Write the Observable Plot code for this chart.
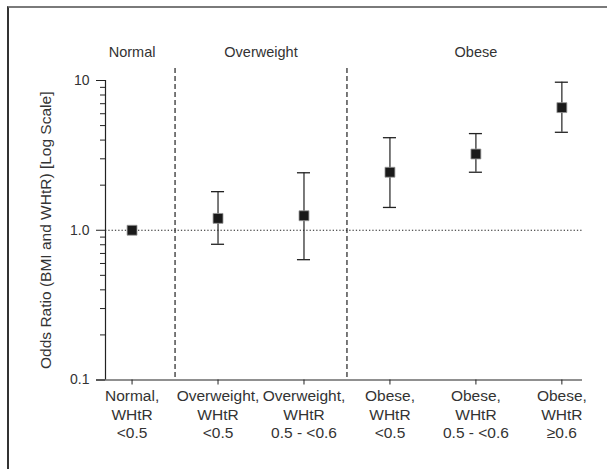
<!DOCTYPE html>
<html>
<head>
<meta charset="utf-8">
<script src="https://cdn.jsdelivr.net/npm/d3@7"></script>
<script src="https://cdn.jsdelivr.net/npm/@observablehq/plot@0.6"></script>
<style>
  html, body { margin: 0; padding: 0; background: #fff; }
  #wrap { position: relative; width: 607px; height: 469px; overflow: hidden; }
  #frame { position: absolute; left: 7px; top: 6px; right: -10px; bottom: -10px;
           border-top: 2px solid #7a7a7a; border-left: 2px solid #333; }
  #chart { position: absolute; left: 0; top: 0; }
  svg { font-family: "Liberation Sans", Arial, sans-serif; }
</style>
</head>
<body>
<div id="wrap"><div id="frame"></div><div id="chart"></div></div>
<script>
const categories = [
  "Normal,\nWHtR\n<0.5",
  "Overweight,\nWHtR\n<0.5",
  "Overweight,\nWHtR\n0.5 - <0.6",
  "Obese,\nWHtR\n<0.5",
  "Obese,\nWHtR\n0.5 - <0.6",
  "Obese,\nWHtR\n≥0.6"
];
const oddsRatio = [1.0, 1.20, 1.25, 2.44, 3.23, 6.59];
const lowerCI   = [null, 0.806, 0.636, 1.42, 2.44, 4.51];
const upperCI   = [null, 1.81, 2.42, 4.15, 4.42, 9.74];
const groupNames = ["Normal", "Overweight", "Obese"];
const groupCenters = [0, 1.5, 4];
const groupDividers = [0.5, 2.5];
const majorTicks = [0.1, 1, 10];
const majorTickLabels = ["0.1", "1.0", "10"];
const minorTicks = [0.2,0.3,0.4,0.5,0.6,0.7,0.8,0.9,2,3,4,5,6,7,8,9];

const data = categories.map((c, i) => ({i, c, or: oddsRatio[i], lo: lowerCI[i], hi: upperCI[i]}));
const ci = data.filter(d => d.lo != null);
const groups = groupNames.map((g, k) => ({g, x: groupCenters[k]}));
const ink = "#222";
const txt = "#333";

const chart = Plot.plot({
  width: 607,
  height: 469,
  marginLeft: 105,
  marginRight: 25,
  marginTop: 80,
  marginBottom: 89.5,
  style: {fontSize: "15px", color: txt, background: "transparent", overflow: "visible"},
  x: {type: "linear", domain: [-0.309, 5.24], axis: null},
  y: {type: "log", domain: [0.1, 10], axis: null},
  marks: [
    Plot.ruleY([1], {stroke: ink, strokeWidth: 1, strokeDasharray: "1.3,2"}),
    Plot.ruleX(groupDividers, {stroke: ink, strokeWidth: 1.2, strokeDasharray: "5,3", insetTop: -12}),
    Plot.ruleX(ci, {x: "i", y1: "lo", y2: "hi", stroke: ink, strokeWidth: 1.2}),
    Plot.ruleY(ci, {y: "lo", x1: d => d.i - 0.076, x2: d => d.i + 0.076, stroke: ink, strokeWidth: 1.3}),
    Plot.ruleY(ci, {y: "hi", x1: d => d.i - 0.076, x2: d => d.i + 0.076, stroke: ink, strokeWidth: 1.3}),
    Plot.dot(data, {x: "i", y: "or", symbol: "square", r: 5.6, fill: "#1a1a1a", stroke: "#999", strokeWidth: 0.8}),
    Plot.ruleX([-0.309], {stroke: ink, strokeWidth: 1.2}),
    Plot.ruleY([0.1], {stroke: ink, strokeWidth: 1.2, insetLeft: -9}),
    Plot.axisY(majorTicks, {tickSize: 9, tickPadding: 7, tickFormat: (d) => majorTickLabels[majorTicks.indexOf(d)], stroke: ink, fill: txt, fontSize: 14, label: null}),
    Plot.axisY(minorTicks, {tickSize: 5, tickFormat: null, text: null, stroke: ink, label: null}),
    Plot.axisX(data.map(d => d.i), {tickSize: 5, tickPadding: 3, tickFormat: (i) => categories[i], lineHeight: 1.2, stroke: ink, fill: txt, fontSize: 15.5, label: null}),
    Plot.text(groups, {x: "x", text: "g", frameAnchor: "top", dy: -34, fill: txt, fontSize: 14.5}),
    Plot.text(["Odds Ratio (BMI and WHtR) [Log Scale]"], {frameAnchor: "left", textAnchor: "middle", lineAnchor: "middle", dx: -59, rotate: -90, fill: txt, fontSize: 15.5})
  ]
});
document.getElementById("chart").appendChild(chart);
</script>
</body>
</html>
